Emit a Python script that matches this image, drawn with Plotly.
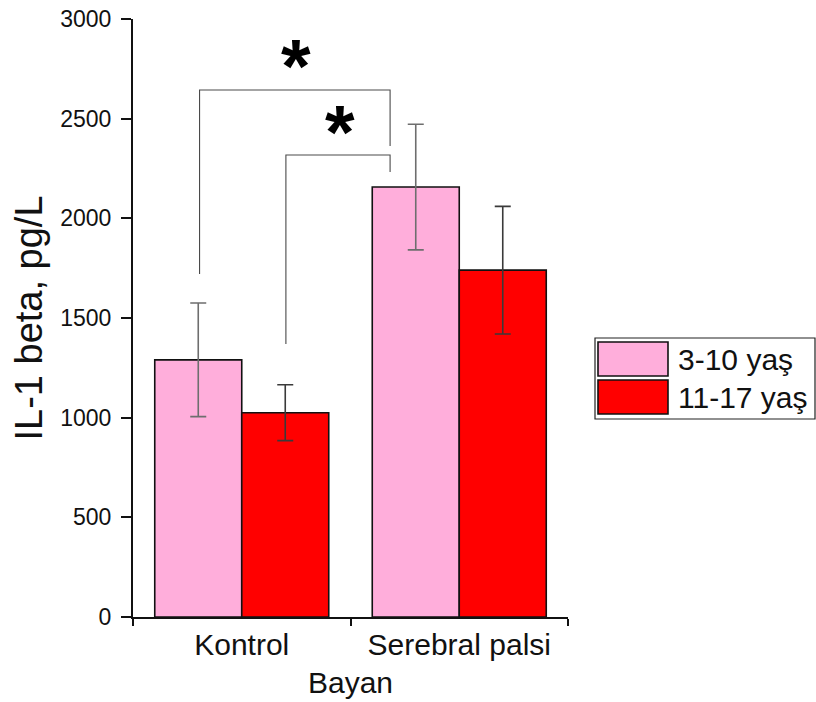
import plotly.graph_objects as go

# Data
groups = ["Kontrol", "Serebral palsi"]
series_names = ["3-10 yaş", "11-17 yaş"]
means_3_10 = [1290, 2157]
err_3_10 = [285, 315]
means_11_17 = [1025, 1740]
err_11_17 = [140, 320]
y_ticks = [0, 500, 1000, 1500, 2000, 2500, 3000]

PINK = "#FFAEDB"
RED = "#FF0000"
FONT = "Arial, Liberation Sans, sans-serif"

W, H = 816, 702
L, R, T, B = 133, 248, 19, 85
PW, PH = W - L - R, H - T - B


def px(xp):
    return (xp - L) / PW


def py(yp):
    return (H - B - yp) / PH


fig = go.Figure()
fig.add_trace(go.Bar(
    x=groups, y=means_3_10, name=series_names[0],
    marker=dict(color=PINK, line=dict(color="#111111", width=1.6)),
    error_y=dict(type="data", array=err_3_10, color="#6e6e6e", thickness=1.6, width=8),
    showlegend=False,
))
fig.add_trace(go.Bar(
    x=groups, y=means_11_17, name=series_names[1],
    marker=dict(color=RED, line=dict(color="#111111", width=1.6)),
    error_y=dict(type="data", array=err_11_17, color="#3a3a3a", thickness=1.6, width=8),
    showlegend=False,
))

# Significance brackets (x in category units, y in data units)
br_color = "#4a4a4a"
brackets = [
    # (x_left, y_left_bottom, y_top, x_right, y_right_bottom)
    (-0.194, 1721, 2644, 0.682, 2363),
    (0.203, 1370, 2318, 0.682, 2233),
]
shapes = []
for xl, yl, yt, xr, yr in brackets:
    shapes.append(dict(type="path", xref="x", yref="y",
                       path=f"M {xl},{yl} L {xl},{yt} L {xr},{yt} L {xr},{yr}",
                       line=dict(color=br_color, width=1.1)))

# Legend box and swatches
shapes.append(dict(type="rect", xref="paper", yref="paper",
                   x0=px(595), x1=px(815), y0=py(419), y1=py(338),
                   line=dict(color="#222222", width=1.2), fillcolor="white", layer="below"))
for (y0, y1), col in zip([(376, 342), (414, 380)], [PINK, RED]):
    shapes.append(dict(type="rect", xref="paper", yref="paper",
                       x0=px(598), x1=px(668), y0=py(y0), y1=py(y1),
                       line=dict(color="#111111", width=1.6), fillcolor=col))

annotations = []
for name, yc in zip(series_names, [359, 397]):
    annotations.append(dict(xref="paper", yref="paper", x=px(676), y=py(yc),
                            text=name, showarrow=False, xanchor="left", yanchor="middle",
                            font=dict(family=FONT, size=30, color="#111111")))

# Asterisks
for xc, yc in [(296, 58), (340, 123)]:
    annotations.append(dict(xref="paper", yref="paper", x=px(xc), y=py(yc),
                            text="<b>*</b>", showarrow=False, xanchor="center", yanchor="middle",
                            yshift=-8,
                            font=dict(family=FONT, size=76, color="#000000")))

fig.update_layout(
    width=W, height=H,
    margin=dict(l=L, r=R, t=T, b=B, pad=0),
    paper_bgcolor="white", plot_bgcolor="white",
    barmode="group", bargap=0.2, bargroupgap=0,
    shapes=shapes, annotations=annotations,
    font=dict(family=FONT, color="#111111"),
)
fig.update_xaxes(
    range=[-0.5, 1.5], type="category", tickson="boundaries", automargin=False,
    showline=True, linecolor="#111111", linewidth=2,
    ticks="outside", ticklen=7, tickwidth=1.5, tickcolor="#111111",
    tickfont=dict(size=30), showgrid=False, zeroline=False,
    title=dict(text="Bayan", font=dict(size=30), standoff=12),
)
fig.update_yaxes(
    range=[0, 3000], tickvals=y_ticks, ticktext=[str(v) for v in y_ticks], automargin=False,
    showline=True, linecolor="#111111", linewidth=2,
    ticks="outside", ticklen=10, tickwidth=1.5, tickcolor="#111111",
    tickfont=dict(size=23), ticklabelstandoff=5, showgrid=False, zeroline=False,
    title=dict(text="IL-1 beta, pg/L", font=dict(size=38), standoff=6),
)

fig.write_html("out.html")
